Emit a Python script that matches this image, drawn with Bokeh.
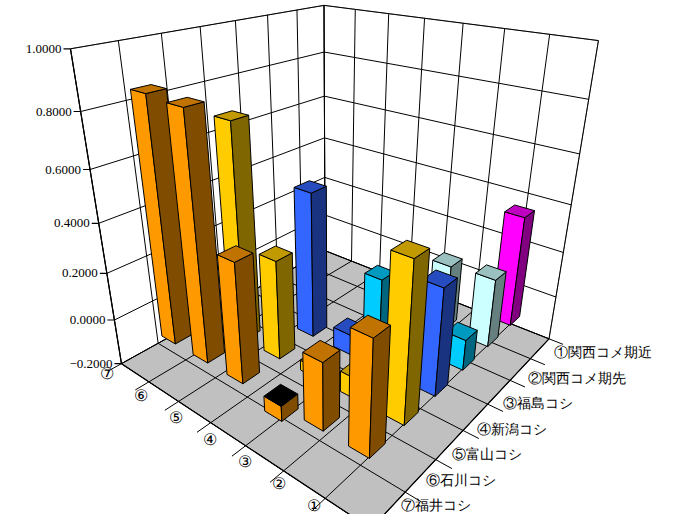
import numpy as np
from bokeh.plotting import figure
from bokeh.models import Range1d
from bokeh.embed import file_html
from bokeh.resources import INLINE

# 系列（奥行き軸）とカテゴリ（左軸）
series_labels = ["①関西コメ期近", "②関西コメ期先", "③福島コシ", "④新潟コシ", "⑤富山コシ", "⑥石川コシ", "⑦福井コシ"]
cat_labels = ["①", "②", "③", "④", "⑤", "⑥", "⑦"]
y_ticks = [-0.2, 0.0, 0.2, 0.4, 0.6, 0.8, 1.0]

# 相関係数（系列 m に対して カテゴリ ①..m-1）
vals_2 = [0.44]
vals_3 = [0.27, 0.26]
vals_4 = [0.12, 0.15, 0.22]
vals_5 = [0.40, 0.03, 0.08, 0.56]
vals_6 = [0.57, 0.08, 0.04, 0.38, 0.81]
vals_7 = [0.41, 0.25, -0.06, 0.45, 0.89, 0.90]
series_vals = {2: vals_2, 3: vals_3, 4: vals_4, 5: vals_5, 6: vals_6, 7: vals_7}

# front / side / top colours
colors = {
    2: ("#FF00FF", "#800080", "#C000C0"),
    3: ("#CCFFFF", "#668080", "#9AC0C0"),
    4: ("#00CCFF", "#006680", "#009AC0"),
    5: ("#3366FF", "#1A3380", "#264CC0"),
    6: ("#FFCC00", "#806600", "#C09A00"),
    7: ("#FF9900", "#804C00", "#C07300"),
}

ZMIN, ZMAX = -0.2, 1.0
N = 7

# camera fitted to the box corners (u, v, z) -> screen px
calib = [
    ((0, 0, ZMIN), (323, 250)), ((0, 0, ZMAX), (325, 5)),
    ((0, 1, ZMIN), (122, 363)), ((0, 1, ZMAX), (69, 48)), ((0, 1, 0.0), (114, 320)),
    ((1, 0, ZMIN), (550, 338)), ((1, 0, 0.0), (555, 297)), ((1, 0, ZMAX), (597, 40)),
    ((1, 1, ZMIN), (370, 528)),
]
A = []
for (u, v, z), (x, y) in calib:
    X = [u, v, z, 1]
    A.append(X + [0, 0, 0, 0] + [-x * c for c in X])
    A.append([0, 0, 0, 0] + X + [-y * c for c in X])
_, _, vt = np.linalg.svd(np.array(A, dtype=float))
P = vt[-1].reshape(3, 4)


def proj(u, v, z):
    r = P @ np.array([u, v, z, 1.0])
    return r[0] / r[2], r[1] / r[2]


def poly(pts):
    xy = [proj(*p) for p in pts]
    return [a for a, b in xy], [b for a, b in xy]


p = figure(width=658, height=514, output_backend="svg", toolbar_location=None,
           x_range=Range1d(0, 658), y_range=Range1d(514, 0), min_border=0)
p.axis.visible = False
p.grid.visible = False
p.outline_line_color = None

# walls and floor
for pts, fc in [
    ([(0, 0, ZMIN), (0, 1, ZMIN), (0, 1, ZMAX), (0, 0, ZMAX)], "white"),
    ([(0, 0, ZMIN), (1, 0, ZMIN), (1, 0, ZMAX), (0, 0, ZMAX)], "white"),
    ([(0, 0, ZMIN), (1, 0, ZMIN), (1, 1, ZMIN), (0, 1, ZMIN)], "#C0C0C0"),
]:
    xs, ys = poly(pts)
    p.patch(xs, ys, fill_color=fc, line_color="#808080", line_width=1)

gx, gy = [], []
for z in y_ticks:
    for a, b in [((0, 0, z), (0, 1, z)), ((0, 0, z), (1, 0, z))]:
        xs, ys = poly([a, b])
        gx.append(xs); gy.append(ys)
for j in range(N + 1):
    t = j / N
    for a, b in [((0, t, ZMIN), (0, t, ZMAX)), ((t, 0, ZMIN), (t, 0, ZMAX)),
                 ((t, 0, ZMIN), (t, 1, ZMIN)), ((0, t, ZMIN), (1, t, ZMIN)),
                 ((t, 1, ZMIN), (t, 1.05, ZMIN)), ((1, t, ZMIN), (1.05, t, ZMIN))]:
        xs, ys = poly([a, b])
        gx.append(xs); gy.append(ys)
p.multi_line(gx, gy, line_color="black", line_width=1)

# front edges + value axis
ex, ey = [], []
for a, b in [((0, 1, ZMIN), (0, 1, ZMAX)), ((0, 1, ZMIN), (1, 1, ZMIN)), ((1, 0, ZMIN), (1, 1, ZMIN))]:
    xs, ys = poly([a, b])
    ex.append(xs); ey.append(ys)
for z in y_ticks:
    x0, y0 = proj(0, 1, z)
    ex.append([x0 - 7, x0]); ey.append([y0, y0])
p.multi_line(ex, ey, line_color="black", line_width=1.2)

# bars from 0, back to front
bars = []
for m, vals in series_vals.items():
    for i, val in enumerate(vals):
        k = i + 1
        uc = (N - k + 0.5) / N
        vc = (m - 0.5) / N
        bars.append((uc + vc, uc, vc, val, m))
bars.sort()
hw = 0.22 / N
fx, fy, fc = [], [], []
for _, uc, vc, val, m in bars:
    front, side, top = colors[m]
    z0, z1 = min(0.0, val), max(0.0, val)
    u0, u1, v0, v1 = uc - hw, uc + hw, vc - hw, vc + hw
    faces = [
        ([(u0, v1, z0), (u1, v1, z0), (u1, v1, z1), (u0, v1, z1)], front),
        ([(u1, v0, z0), (u1, v1, z0), (u1, v1, z1), (u1, v0, z1)], side),
        ([(u0, v0, z1), (u1, v0, z1), (u1, v1, z1), (u0, v1, z1)], "black" if val < 0 else top),
    ]
    for pts, c in faces:
        xs, ys = poly(pts)
        fx.append(xs); fy.append(ys); fc.append(c)
p.patches(fx, fy, fill_color=fc, line_color="black", line_width=1)

tx, ty, tt = [], [], []
for z in y_ticks:
    x0, y0 = proj(0, 1, z)
    tx.append(x0 - 9); ty.append(y0); tt.append(f"{z:.4f}".replace("-", "−"))
p.text(x=tx, y=ty, text=tt, text_align="right", text_baseline="middle", text_font_size="13px")

cx = np.linspace(106, 313, N)
cy = np.linspace(373, 505, N)
p.text(x=list(cx), y=list(cy), text=cat_labels[::-1], text_align="center",
       text_baseline="middle", text_font_size="16px")
sx = np.linspace(553, 400, N)
sy = np.linspace(352, 505, N)
p.text(x=list(sx), y=list(sy), text=series_labels, text_align="left",
       text_baseline="middle", text_font_size="14px")

for r in p.renderers:
    if hasattr(r.glyph, "text_font"):
        r.glyph.text_font = "Noto Sans CJK JP"

open("out.html", "w").write(file_html(p, INLINE))
